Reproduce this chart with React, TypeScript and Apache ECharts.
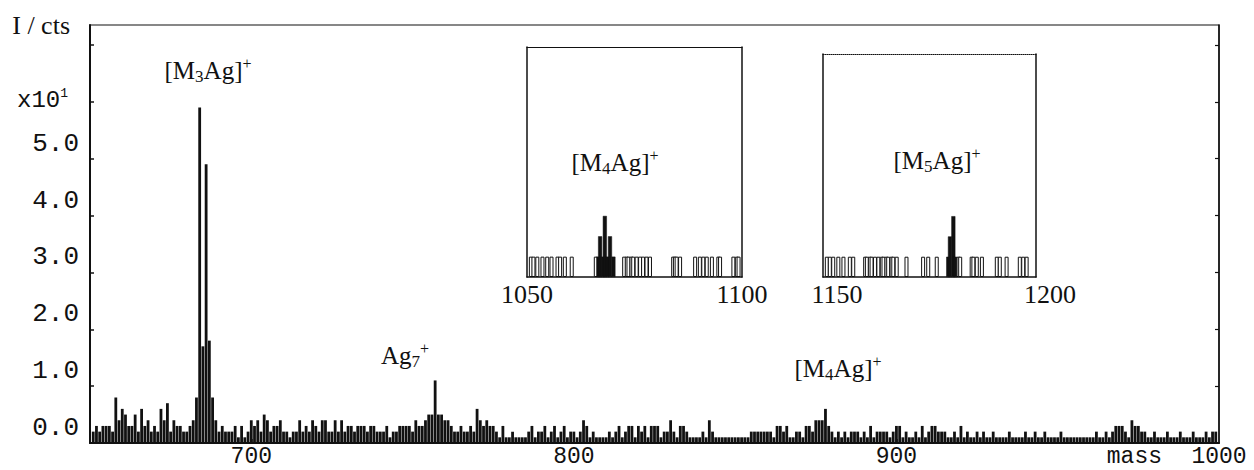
import React, { useEffect, useRef } from 'react';
import * as echarts from 'echarts';

const SERIF = '"Liberation Serif","Times New Roman",serif';
const MONO = '"Liberation Mono","Courier New",monospace';
const INK = '#111';

// Main spectrum: ion counts per 1-mass bin, starting at mass 651
const MASS_START = 651;
const counts = [
  2, 3, 2, 3, 3, 3, 2, 8, 4, 6, // 651-660
  5, 3, 3, 5, 2, 6, 3, 4, 2, 3, // 661-670
  2, 6, 4, 7, 2, 4, 3, 3, 2, 2, // 671-680
  3, 4, 8, 59, 17, 49, 18, 8, 4, 2, // 681-690
  3, 2, 2, 2, 3, 1, 3, 1, 2, 4, // 691-700
  3, 4, 2, 5, 4, 2, 3, 3, 4, 2, // 701-710
  2, 1, 2, 2, 4, 2, 3, 2, 4, 3, // 711-720
  2, 4, 4, 2, 2, 4, 2, 4, 2, 3, // 721-730
  3, 2, 3, 3, 3, 2, 3, 3, 2, 2, // 731-740
  2, 3, 1, 2, 2, 3, 3, 3, 3, 2, // 741-750
  4, 3, 3, 4, 5, 5, 11, 5, 5, 4, // 751-760
  4, 3, 2, 2, 3, 2, 2, 3, 2, 6, // 761-770
  4, 3, 4, 3, 3, 2, 1, 3, 1, 1, // 771-780
  2, 1, 1, 1, 1, 2, 3, 1, 2, 2, // 781-790
  3, 1, 2, 3, 1, 2, 3, 1, 2, 2, // 791-800
  1, 2, 4, 3, 1, 2, 1, 1, 1, 1, // 801-810
  2, 1, 2, 3, 1, 2, 3, 3, 1, 3, // 811-820
  2, 3, 1, 3, 3, 3, 1, 2, 2, 4, // 821-830
  2, 1, 3, 3, 2, 1, 1, 1, 1, 2, // 831-840
  1, 4, 2, 1, 1, 1, 1, 1, 1, 1, // 841-850
  1, 1, 1, 1, 2, 2, 2, 2, 2, 2, // 851-860
  2, 1, 3, 3, 2, 3, 1, 1, 2, 2, // 861-870
  1, 3, 3, 2, 4, 4, 4, 6, 3, 2, // 871-880
  1, 2, 1, 2, 1, 2, 2, 2, 1, 2, // 881-890
  1, 3, 1, 2, 2, 2, 2, 1, 2, 3, // 891-900
  3, 1, 2, 1, 1, 2, 1, 3, 1, 2, // 901-910
  3, 3, 2, 2, 2, 1, 1, 2, 1, 3, // 911-920
  1, 2, 1, 1, 2, 1, 2, 1, 1, 2, // 921-930
  1, 1, 1, 1, 2, 1, 1, 1, 1, 2, // 931-940
  1, 1, 2, 1, 1, 2, 1, 1, 1, 1, // 941-950
  2, 1, 1, 1, 1, 1, 1, 1, 1, 1, // 951-960
  1, 2, 1, 1, 2, 1, 2, 3, 3, 3, // 961-970
  2, 1, 4, 3, 3, 2, 2, 1, 1, 2, // 971-980
  1, 1, 1, 2, 1, 1, 1, 2, 1, 1, // 981-990
  1, 2, 1, 1, 1, 2, 1, 2, 2, // 991-999
];

const Y_LABEL_VALUES = [0, 10, 20, 30, 40, 50];
const Y_TICK_VALUES = [10, 20, 30, 40, 50, 60, 70];
const X_LABEL_VALUES = [700, 800, 900, 1000];
const X_TICK_VALUES = [700, 800, 900];

// Inset 1: 1050-1100
const inset1Noise = [
  1050.9, 1051.5, 1052.4, 1053.6, 1054.7, 1055.7, 1057.1, 1057.7, 1058.8, 1060.4,
  1066.0, 1072.6, 1073.2, 1073.6, 1074.3, 1074.7, 1075.5, 1076.3, 1077.0, 1077.8,
  1078.6, 1084.0, 1084.4, 1084.8, 1085.6, 1089.1, 1090.2, 1091.0, 1091.8, 1093.0,
  1094.5, 1094.9, 1098.0, 1098.8, 1099.2,
];
const inset1Peak = [
  [1066.6, 1], [1067.0, 2], [1067.7, 1], [1068.1, 3], [1068.7, 1], [1069.3, 2], [1070.1, 1],
];
// Inset 2: 1150-1200
const inset2Noise = [
  1150.9, 1151.6, 1152.4, 1153.6, 1154.8, 1156.3, 1157.1, 1159.9, 1160.3, 1161.0,
  1161.4, 1162.2, 1163.0, 1163.8, 1164.2, 1164.9, 1165.3, 1166.1, 1166.5, 1167.3,
  1169.6, 1173.5, 1174.7, 1176.7, 1181.8, 1182.2, 1184.9, 1185.3, 1186.1, 1187.3,
  1190.8, 1191.5, 1193.1, 1196.2, 1197.0, 1197.8,
];
const inset2Peak = [
  [1179.4, 1], [1179.8, 2], [1180.6, 3], [1181.0, 1],
];

const annRich: any = {
  n: { fontFamily: SERIF, fontSize: 25, lineHeight: 30, fill: INK },
  s: { fontFamily: SERIF, fontSize: 17, lineHeight: 15, verticalAlign: 'bottom', fill: INK },
  p: { fontFamily: SERIF, fontSize: 16, lineHeight: 14, verticalAlign: 'top', fill: INK },
};

const ann = (x: number, y: number, text: string) => ({
  type: 'text',
  x,
  y,
  z: 50,
  style: { text, rich: annRich, align: 'center', verticalAlign: 'middle', fill: INK },
});

const insetItems = (noise: number[], peak: number[][]) => [
  ...noise.map((m) => ({
    value: [m, 1],
    itemStyle: { color: '#fff', borderColor: INK, borderWidth: 1 },
  })),
  ...peak.map((p) => ({ value: p, itemStyle: { color: INK, borderColor: INK, borderWidth: 0.5 } })),
];

const hiddenLabel = { show: false };
const plain = (v: number) => String(v);

function insetAxes(gi: number, min: number, max: number, topDotted: boolean, labelPad: number) {
  return [
    {
      type: 'value', gridIndex: gi, min, max, position: 'bottom',
      axisLine: { show: true, onZero: false, lineStyle: { color: INK, width: 1.5 } },
      axisTick: { show: false },
      splitLine: { show: false },
      axisLabel: {
        customValues: [min, max], formatter: plain, color: INK, fontFamily: SERIF, fontSize: 26, margin: 4,
        padding: [0, 0, 0, labelPad],
      },
    },
    {
      type: 'value', gridIndex: gi, min, max, position: 'top',
      axisLine: { show: true, onZero: false, lineStyle: { color: INK, width: topDotted ? 1 : 1.2, type: topDotted ? 'dotted' : 'solid' } },
      axisTick: { show: false }, splitLine: { show: false }, axisLabel: hiddenLabel,
    },
  ];
}

function insetYAxes(gi: number, max: number) {
  return [
    {
      type: 'value', gridIndex: gi, min: 0, max, position: 'left',
      axisLine: { show: true, onZero: false, lineStyle: { color: INK, width: 1.5 } },
      axisTick: { show: false }, splitLine: { show: false }, axisLabel: hiddenLabel,
    },
    {
      type: 'value', gridIndex: gi, min: 0, max, position: 'right',
      axisLine: { show: true, onZero: false, lineStyle: { color: INK, width: 1.5 } },
      axisTick: { show: false }, splitLine: { show: false }, axisLabel: hiddenLabel,
    },
  ];
}

const option: any = {
  animation: false,
  backgroundColor: '#fff',
  grid: [
    { left: 90, top: 25, right: 35, bottom: 27, show: true, borderColor: INK, borderWidth: 1.2, outerBoundsMode: 'none' },
    { left: 527, top: 47, width: 215, height: 230, show: true, borderWidth: 0, backgroundColor: '#fff', outerBoundsMode: 'none' },
    { left: 823, top: 54, width: 213, height: 223, show: true, borderWidth: 0, backgroundColor: '#fff', outerBoundsMode: 'none' },
  ],
  xAxis: [
    {
      type: 'value', gridIndex: 0, min: 650, max: 1000, position: 'bottom',
      name: 'mass', nameLocation: 'end', nameGap: -57, nameMoveOverlap: false,
      nameTextStyle: { fontFamily: MONO, fontSize: 23, lineHeight: 23, color: INK, align: 'right', verticalAlign: 'top', padding: [2, 0, 0, 0] },
      axisLine: { show: true, onZero: false, lineStyle: { color: INK, width: 2 } },
      axisTick: { show: true, inside: true, length: 4, customValues: X_TICK_VALUES, lineStyle: { color: INK, width: 1.5 } },
      splitLine: { show: false },
      axisLabel: { customValues: X_LABEL_VALUES, formatter: plain, color: INK, fontFamily: MONO, fontSize: 23, lineHeight: 23, margin: 2 },
    },
    ...insetAxes(1, 1050, 1100, false, 0),
    ...insetAxes(2, 1150, 1200, true, 28),
  ],
  yAxis: [
    {
      type: 'value', gridIndex: 0, min: 0, max: 73.5, position: 'left',
      name: 'I / cts', nameLocation: 'end', nameGap: 0,
      nameTextStyle: { fontFamily: SERIF, fontSize: 26, color: INK, align: 'right', verticalAlign: 'middle', padding: [0, 20, 0, 0] },
      axisLine: { show: true, onZero: false, lineStyle: { color: INK, width: 2 } },
      axisTick: { show: true, inside: true, length: 4, customValues: Y_TICK_VALUES, lineStyle: { color: INK, width: 1.5 } },
      splitLine: { show: false },
      axisLabel: {
        customValues: Y_LABEL_VALUES,
        formatter: (v: number) => (v / 10).toFixed(1),
        color: INK, fontFamily: MONO, fontSize: 26, margin: 11,
        verticalAlign: 'bottom', lineHeight: 30,
      },
    },
    {
      type: 'value', gridIndex: 0, min: 0, max: 73.5, position: 'right',
      axisLine: { show: true, onZero: false, lineStyle: { color: INK, width: 1.5 } },
      axisTick: { show: true, inside: true, length: 4, customValues: Y_TICK_VALUES, lineStyle: { color: INK, width: 1.2 } },
      splitLine: { show: false }, axisLabel: hiddenLabel,
    },
    ...insetYAxes(1, 11.3),
    ...insetYAxes(2, 11.0),
  ],
  series: [
    {
      type: 'bar', name: 'spectrum', xAxisIndex: 0, yAxisIndex: 0, silent: true,
      barWidth: 2.8,
      itemStyle: { color: INK },
      data: counts.map((c, i) => [MASS_START + i, c]),
    },
    {
      type: 'bar', name: 'inset1', xAxisIndex: 1, yAxisIndex: 2, silent: true,
      barWidth: 4,
      data: insetItems(inset1Noise, inset1Peak),
    },
    {
      type: 'bar', name: 'inset2', xAxisIndex: 3, yAxisIndex: 4, silent: true,
      barWidth: 4,
      data: insetItems(inset2Noise, inset2Peak),
    },
  ],
  graphic: [
    ann(208, 70, '{n|[M}{s|3}{n|Ag]}{p|+}'),
    ann(405, 355, '{n|Ag}{s|7}{p|+}'),
    ann(838, 368, '{n|[M}{s|4}{n|Ag]}{p|+}'),
    ann(615, 162, '{n|[M}{s|4}{n|Ag]}{p|+}'),
    ann(937, 160, '{n|[M}{s|5}{n|Ag]}{p|+}'),
    {
      type: 'text', x: 17, y: 100, z: 50,
      style: {
        text: '{m|x10}{e|1}',
        rich: {
          m: { fontFamily: MONO, fontSize: 24, lineHeight: 26, fill: INK },
          e: { fontFamily: MONO, fontSize: 13, lineHeight: 13, verticalAlign: 'top', fill: INK },
        },
        align: 'left', verticalAlign: 'middle', fill: INK,
      },
    },
  ],
};

export default function App() {
  const ref = useRef<HTMLDivElement>(null);
  useEffect(() => {
    if (!ref.current) return;
    const chart = echarts.init(ref.current, null, { renderer: 'svg' });
    chart.setOption(option);
    return () => chart.dispose();
  }, []);
  return (
    <div
      ref={ref}
      style={{ position: 'fixed', left: 0, top: 0, width: 1254, height: 470, background: '#fff' }}
    />
  );
}
